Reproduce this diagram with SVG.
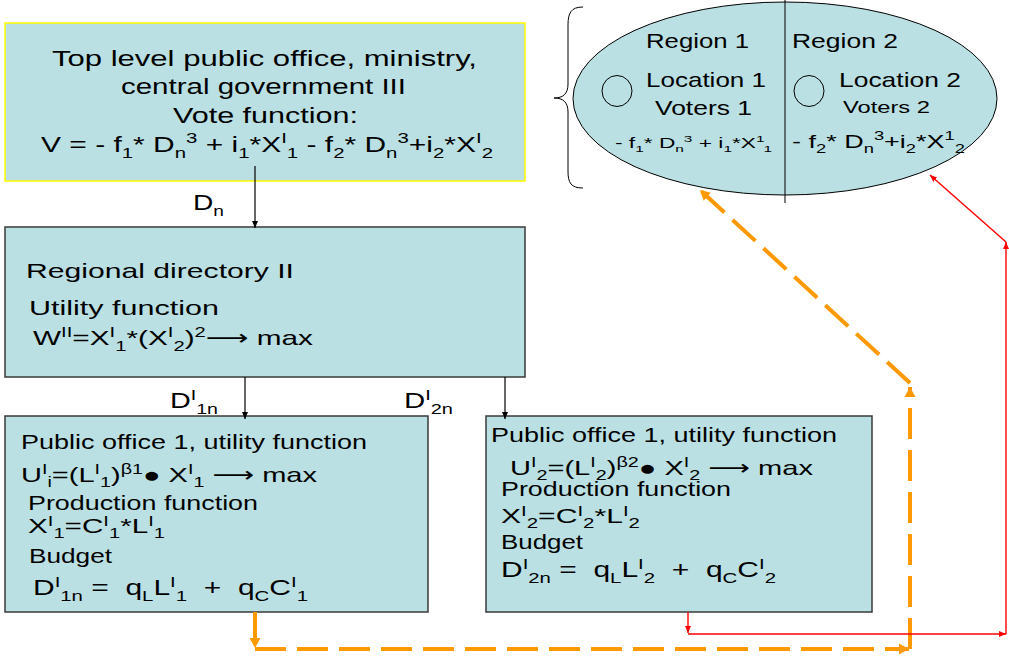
<svg xmlns="http://www.w3.org/2000/svg" width="1009" height="657" viewBox="0 0 1009 657">
  <style>
    text { font-family: "Liberation Sans", Arial, "DejaVu Sans", sans-serif; fill: #000; }
    .box { fill: #bbe0e3; stroke: #3a3a3a; stroke-width: 1.5; }
    .top { fill: #bbe0e3; stroke: #ffff00; stroke-width: 1.5; }
    .f22 { font-size: 22px; }
    .f21 { font-size: 21px; }
    .f20 { font-size: 20px; }
    .f17 { font-size: 17px; }
    .f19 { font-size: 19px; }
    .f14 { font-size: 14px; }
    .s { font-size: 0.68em; }
    .blk { stroke: #000; stroke-width: 1.2; fill: none; }
    .org { stroke: #ff9900; stroke-width: 4; fill: none; stroke-dasharray: 31 11; }
    .red { stroke: #ff0000; stroke-width: 1.4; fill: none; }
  </style>
  <defs>
    <marker id="ahBlack" markerUnits="userSpaceOnUse" markerWidth="8" markerHeight="8" refX="7" refY="4" orient="auto">
      <path d="M0,1 L7,4 L0,7 Z" fill="#000"/>
    </marker>
    <marker id="ahOrange" markerUnits="userSpaceOnUse" markerWidth="12" markerHeight="12" refX="10" refY="6" orient="auto">
      <path d="M0,0.5 L10,6 L0,11.5 Z" fill="#ff9900"/>
    </marker>
    <marker id="ahRed" markerUnits="userSpaceOnUse" markerWidth="8" markerHeight="8" refX="7" refY="4" orient="auto">
      <path d="M0,1 L7,4 L0,7 Z" fill="#ff0000"/>
    </marker>
  </defs>

  <rect width="1009" height="657" fill="#ffffff"/>

  <!-- Central government -->
  <g id="central">
    <rect class="top" x="5" y="23" width="520" height="158"/>
    <text class="f22" x="52" y="66" textLength="425" lengthAdjust="spacingAndGlyphs">Top level public office, ministry,</text>
    <text class="f22" x="121" y="94" textLength="285" lengthAdjust="spacingAndGlyphs">central government III</text>
    <text class="f22" x="173" y="123" textLength="185" lengthAdjust="spacingAndGlyphs">Vote function:</text>
    <text class="f22" x="41" y="152" textLength="452" lengthAdjust="spacingAndGlyphs">V = - f<tspan class="s" dy="6">1</tspan><tspan dy="-6">* D</tspan><tspan class="s" dy="6">n</tspan><tspan class="s" dy="-15">3</tspan><tspan dy="9"> + i</tspan><tspan class="s" dy="6">1</tspan><tspan dy="-6">*X</tspan><tspan class="s" dy="-9">I</tspan><tspan class="s" dy="15">1</tspan><tspan dy="-6"> - f</tspan><tspan class="s" dy="6">2</tspan><tspan dy="-6">* D</tspan><tspan class="s" dy="6">n</tspan><tspan class="s" dy="-15">3</tspan><tspan dy="9">+i</tspan><tspan class="s" dy="6">2</tspan><tspan dy="-6">*X</tspan><tspan class="s" dy="-9">I</tspan><tspan class="s" dy="15">2</tspan></text>
  </g>

  <!-- Voters in two regions -->
  <g id="regions">
    <path d="M583,7 C571,7 568,13 568,25 L568,84 C568,94 563,98 554,98 C563,98 568,102 568,112 L568,171 C568,183 571,188 583,188" fill="none" stroke="#000" stroke-width="1"/>
    <ellipse cx="785" cy="98.5" rx="212" ry="96.5" fill="#bbe0e3" stroke="#000" stroke-width="1"/>
    <line x1="785" y1="0" x2="785" y2="203" stroke="#000" stroke-width="1"/>
    <ellipse cx="617" cy="91" rx="15" ry="15.5" fill="none" stroke="#000" stroke-width="1"/>
    <ellipse cx="809" cy="91" rx="15" ry="15.5" fill="none" stroke="#000" stroke-width="1"/>
    <text class="f21" x="646" y="48" textLength="103" lengthAdjust="spacingAndGlyphs">Region 1</text>
    <text class="f21" x="792" y="48" textLength="106" lengthAdjust="spacingAndGlyphs">Region 2</text>
    <text class="f21" x="646" y="87" textLength="120" lengthAdjust="spacingAndGlyphs">Location 1</text>
    <text class="f21" x="655" y="115" textLength="97" lengthAdjust="spacingAndGlyphs">Voters 1</text>
    <text class="f21" x="839" y="87" textLength="122" lengthAdjust="spacingAndGlyphs">Location 2</text>
    <text class="f17" x="843" y="113" textLength="87" lengthAdjust="spacingAndGlyphs">Voters 2</text>
    <text class="f14" x="615" y="148" textLength="157" lengthAdjust="spacingAndGlyphs">- f<tspan class="s" dy="4">1</tspan><tspan dy="-4">* D</tspan><tspan class="s" dy="4">n</tspan><tspan class="s" dy="-10">3</tspan><tspan dy="6"> + i</tspan><tspan class="s" dy="4">1</tspan><tspan dy="-4">*X</tspan><tspan class="s" dy="-6">1</tspan><tspan class="s" dy="10">1</tspan></text>
    <text class="f19" x="792" y="148" textLength="173" lengthAdjust="spacingAndGlyphs">- f<tspan class="s" dy="5">2</tspan><tspan dy="-5">* D</tspan><tspan class="s" dy="5">n</tspan><tspan class="s" dy="-13">3</tspan><tspan dy="8">+i</tspan><tspan class="s" dy="5">2</tspan><tspan dy="-5">*X</tspan><tspan class="s" dy="-8">1</tspan><tspan class="s" dy="13">2</tspan></text>
  </g>

  <!-- Regional directory -->
  <g id="regional">
    <rect class="box" x="5" y="227" width="520" height="150"/>
    <text class="f21" x="26" y="278" textLength="268" lengthAdjust="spacingAndGlyphs">Regional directory II</text>
    <text class="f21" x="29" y="315" textLength="190" lengthAdjust="spacingAndGlyphs">Utility function</text>
    <text class="f21" x="33" y="345" textLength="280" lengthAdjust="spacingAndGlyphs">W<tspan class="s" dy="-8">II</tspan><tspan dy="8">=X</tspan><tspan class="s" dy="-8">I</tspan><tspan class="s" dy="14">1</tspan><tspan dy="-6">*(X</tspan><tspan class="s" dy="-8">I</tspan><tspan class="s" dy="14">2</tspan><tspan dy="-6">)</tspan><tspan class="s" dy="-8">2</tspan><tspan dy="8">⟶ max</tspan></text>
  </g>

  <!-- Public office 1 -->
  <g id="office1">
    <rect class="box" x="5" y="416" width="423" height="196"/>
    <text class="f20" x="21" y="449" textLength="346" lengthAdjust="spacingAndGlyphs">Public office 1, utility function</text>
    <text class="f21" x="21" y="482" textLength="296" lengthAdjust="spacingAndGlyphs">U<tspan class="s" dy="-8">I</tspan><tspan class="s" dy="13">i</tspan><tspan dy="-5">=(L</tspan><tspan class="s" dy="-8">I</tspan><tspan class="s" dy="13">1</tspan><tspan dy="-5">)</tspan><tspan class="s" dy="-8">β1</tspan><tspan dy="8">● X</tspan><tspan class="s" dy="-8">I</tspan><tspan class="s" dy="13">1</tspan><tspan dy="-5"> ⟶ max</tspan></text>
    <text class="f20" x="28" y="510" textLength="230" lengthAdjust="spacingAndGlyphs">Production function</text>
    <text class="f21" x="28" y="533" textLength="137" lengthAdjust="spacingAndGlyphs">X<tspan class="s" dy="-7">I</tspan><tspan class="s" dy="12">1</tspan><tspan dy="-5">=C</tspan><tspan class="s" dy="-7">I</tspan><tspan class="s" dy="12">1</tspan><tspan dy="-5">*L</tspan><tspan class="s" dy="-7">I</tspan><tspan class="s" dy="12">1</tspan></text>
    <text class="f20" x="29" y="563" textLength="83" lengthAdjust="spacingAndGlyphs">Budget</text>
    <text class="f22" x="33" y="595" textLength="275" lengthAdjust="spacingAndGlyphs">D<tspan class="s" dy="-8">I</tspan><tspan class="s" dy="14">1n</tspan><tspan dy="-6"> =&#160; q</tspan><tspan class="s" dy="6">L</tspan><tspan dy="-6">L</tspan><tspan class="s" dy="-8">I</tspan><tspan class="s" dy="14">1</tspan><tspan dy="-6">&#160; +&#160; q</tspan><tspan class="s" dy="6">C</tspan><tspan dy="-6">C</tspan><tspan class="s" dy="-8">I</tspan><tspan class="s" dy="14">1</tspan></text>
  </g>

  <!-- Public office 2 -->
  <g id="office2">
    <rect class="box" x="486" y="416" width="386" height="196"/>
    <text class="f20" x="491" y="442" textLength="346" lengthAdjust="spacingAndGlyphs">Public office 1, utility function</text>
    <text class="f21" x="510" y="475" textLength="303" lengthAdjust="spacingAndGlyphs">U<tspan class="s" dy="-8">I</tspan><tspan class="s" dy="13">2</tspan><tspan dy="-5">=(L</tspan><tspan class="s" dy="-8">I</tspan><tspan class="s" dy="13">2</tspan><tspan dy="-5">)</tspan><tspan class="s" dy="-8">β2</tspan><tspan dy="8">● X</tspan><tspan class="s" dy="-8">I</tspan><tspan class="s" dy="13">2</tspan><tspan dy="-5"> ⟶ max</tspan></text>
    <text class="f20" x="501" y="496" textLength="230" lengthAdjust="spacingAndGlyphs">Production function</text>
    <text class="f21" x="501" y="523" textLength="139" lengthAdjust="spacingAndGlyphs">X<tspan class="s" dy="-7">I</tspan><tspan class="s" dy="12">2</tspan><tspan dy="-5">=C</tspan><tspan class="s" dy="-7">I</tspan><tspan class="s" dy="12">2</tspan><tspan dy="-5">*L</tspan><tspan class="s" dy="-7">I</tspan><tspan class="s" dy="12">2</tspan></text>
    <text class="f20" x="501" y="549" textLength="82" lengthAdjust="spacingAndGlyphs">Budget</text>
    <text class="f22" x="501" y="577" textLength="275" lengthAdjust="spacingAndGlyphs">D<tspan class="s" dy="-8">I</tspan><tspan class="s" dy="14">2n</tspan><tspan dy="-6"> =&#160; q</tspan><tspan class="s" dy="6">L</tspan><tspan dy="-6">L</tspan><tspan class="s" dy="-8">I</tspan><tspan class="s" dy="14">2</tspan><tspan dy="-6">&#160; +&#160; q</tspan><tspan class="s" dy="6">C</tspan><tspan dy="-6">C</tspan><tspan class="s" dy="-8">I</tspan><tspan class="s" dy="14">2</tspan></text>
  </g>

  <!-- Connectors -->
  <g id="connectors">
    <line class="blk" x1="255" y1="166" x2="255" y2="228" marker-end="url(#ahBlack)"/>
    <line class="blk" x1="245" y1="377" x2="245" y2="419" marker-end="url(#ahBlack)"/>
    <line class="blk" x1="505" y1="377" x2="505" y2="419" marker-end="url(#ahBlack)"/>

    <line class="org" x1="255" y1="612" x2="255" y2="648" marker-end="url(#ahOrange)"/>
    <line class="org" x1="255" y1="649" x2="909" y2="649" marker-end="url(#ahOrange)"/>
    <line class="org" x1="910" y1="649" x2="910" y2="387" marker-end="url(#ahOrange)"/>
    <line class="org" x1="910" y1="383" x2="700" y2="190" marker-end="url(#ahOrange)"/>

    <line class="red" x1="688" y1="612" x2="688" y2="633" marker-end="url(#ahRed)"/>
    <line class="red" x1="688" y1="634" x2="1006" y2="634" marker-end="url(#ahRed)"/>
    <line class="red" x1="1006" y1="634" x2="1006" y2="242" marker-end="url(#ahRed)"/>
    <line class="red" x1="1006" y1="242" x2="930" y2="175" marker-end="url(#ahRed)"/>

    <text class="f22" x="193" y="210" textLength="31" lengthAdjust="spacingAndGlyphs">D<tspan class="s" dy="6">n</tspan></text>
    <text class="f22" x="170" y="408" textLength="48" lengthAdjust="spacingAndGlyphs">D<tspan class="s" dy="-8">I</tspan><tspan class="s" dy="14">1n</tspan></text>
    <text class="f22" x="404" y="408" textLength="49" lengthAdjust="spacingAndGlyphs">D<tspan class="s" dy="-8">I</tspan><tspan class="s" dy="14">2n</tspan></text>
  </g>
</svg>
